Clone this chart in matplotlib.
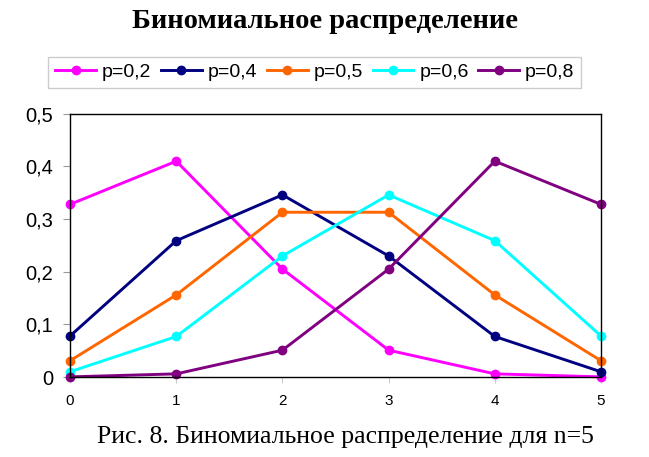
import matplotlib.pyplot as plt
from matplotlib.ticker import FuncFormatter

# Binomial distribution n=5, probabilities
k = [0, 1, 2, 3, 4, 5]
p02 = [0.328, 0.410, 0.205, 0.051, 0.006, 0.0003]
p04 = [0.078, 0.259, 0.346, 0.230, 0.077, 0.010]
p05 = [0.031, 0.156, 0.313, 0.313, 0.156, 0.031]
p06 = [0.010, 0.077, 0.230, 0.346, 0.259, 0.078]
p08 = [0.0003, 0.006, 0.051, 0.205, 0.410, 0.328]
labels = ['p=0,2', 'p=0,4', 'p=0,5', 'p=0,6', 'p=0,8']
colors = ['#FF00FF', '#000080', '#FF6600', '#00FFFF', '#800080']

fig = plt.figure(figsize=(6.49, 4.57), dpi=100)
ax = fig.add_axes([0.108, 0.175, 0.818, 0.576])

for ys, lab, c in zip([p02, p04, p05, p06, p08], labels, colors):
    ax.plot(k, ys, color=c, lw=2.1, marker='o', markersize=6, label=lab, clip_on=False)

ax.set_xlim(0, 5)
ax.set_ylim(0, 0.5)
ax.set_yticks([0, 0.1, 0.2, 0.3, 0.4, 0.5])
ax.yaxis.set_major_formatter(FuncFormatter(lambda v, pos: '0' if v == 0 else ('%.1f' % v).replace('.', ',')))
ax.tick_params(axis='y', labelsize=14.5, length=5, color='#999999', pad=7)
ax.tick_params(axis='x', labelsize=11, length=4, color='#cccccc', pad=8)
for lab in ax.get_xticklabels() + ax.get_yticklabels():
    lab.set_family('Liberation Sans')
for s in ax.spines.values():
    s.set_linewidth(1)
    s.set_color('black')

fig.text(0.5, 0.939, 'Биномиальное распределение', ha='center', va='baseline',
         family='Liberation Serif', weight='bold', fontsize=20.5)

leg = fig.legend(loc='center', bbox_to_anchor=(0.485, 0.842), ncol=5,
                 prop={'family': 'Liberation Sans', 'size': 14},
                 handlelength=2.1, handletextpad=0.3, columnspacing=0.5,
                 fancybox=False, edgecolor='#c0c0c0', borderpad=0.35)
leg.get_frame().set_linewidth(1)

fig.text(0.533, 0.0306, 'Рис. 8. Биномиальное распределение для n=5', ha='center', va='baseline',
         family='Liberation Serif', fontsize=18.5)

fig.savefig('out.png', dpi=100)
